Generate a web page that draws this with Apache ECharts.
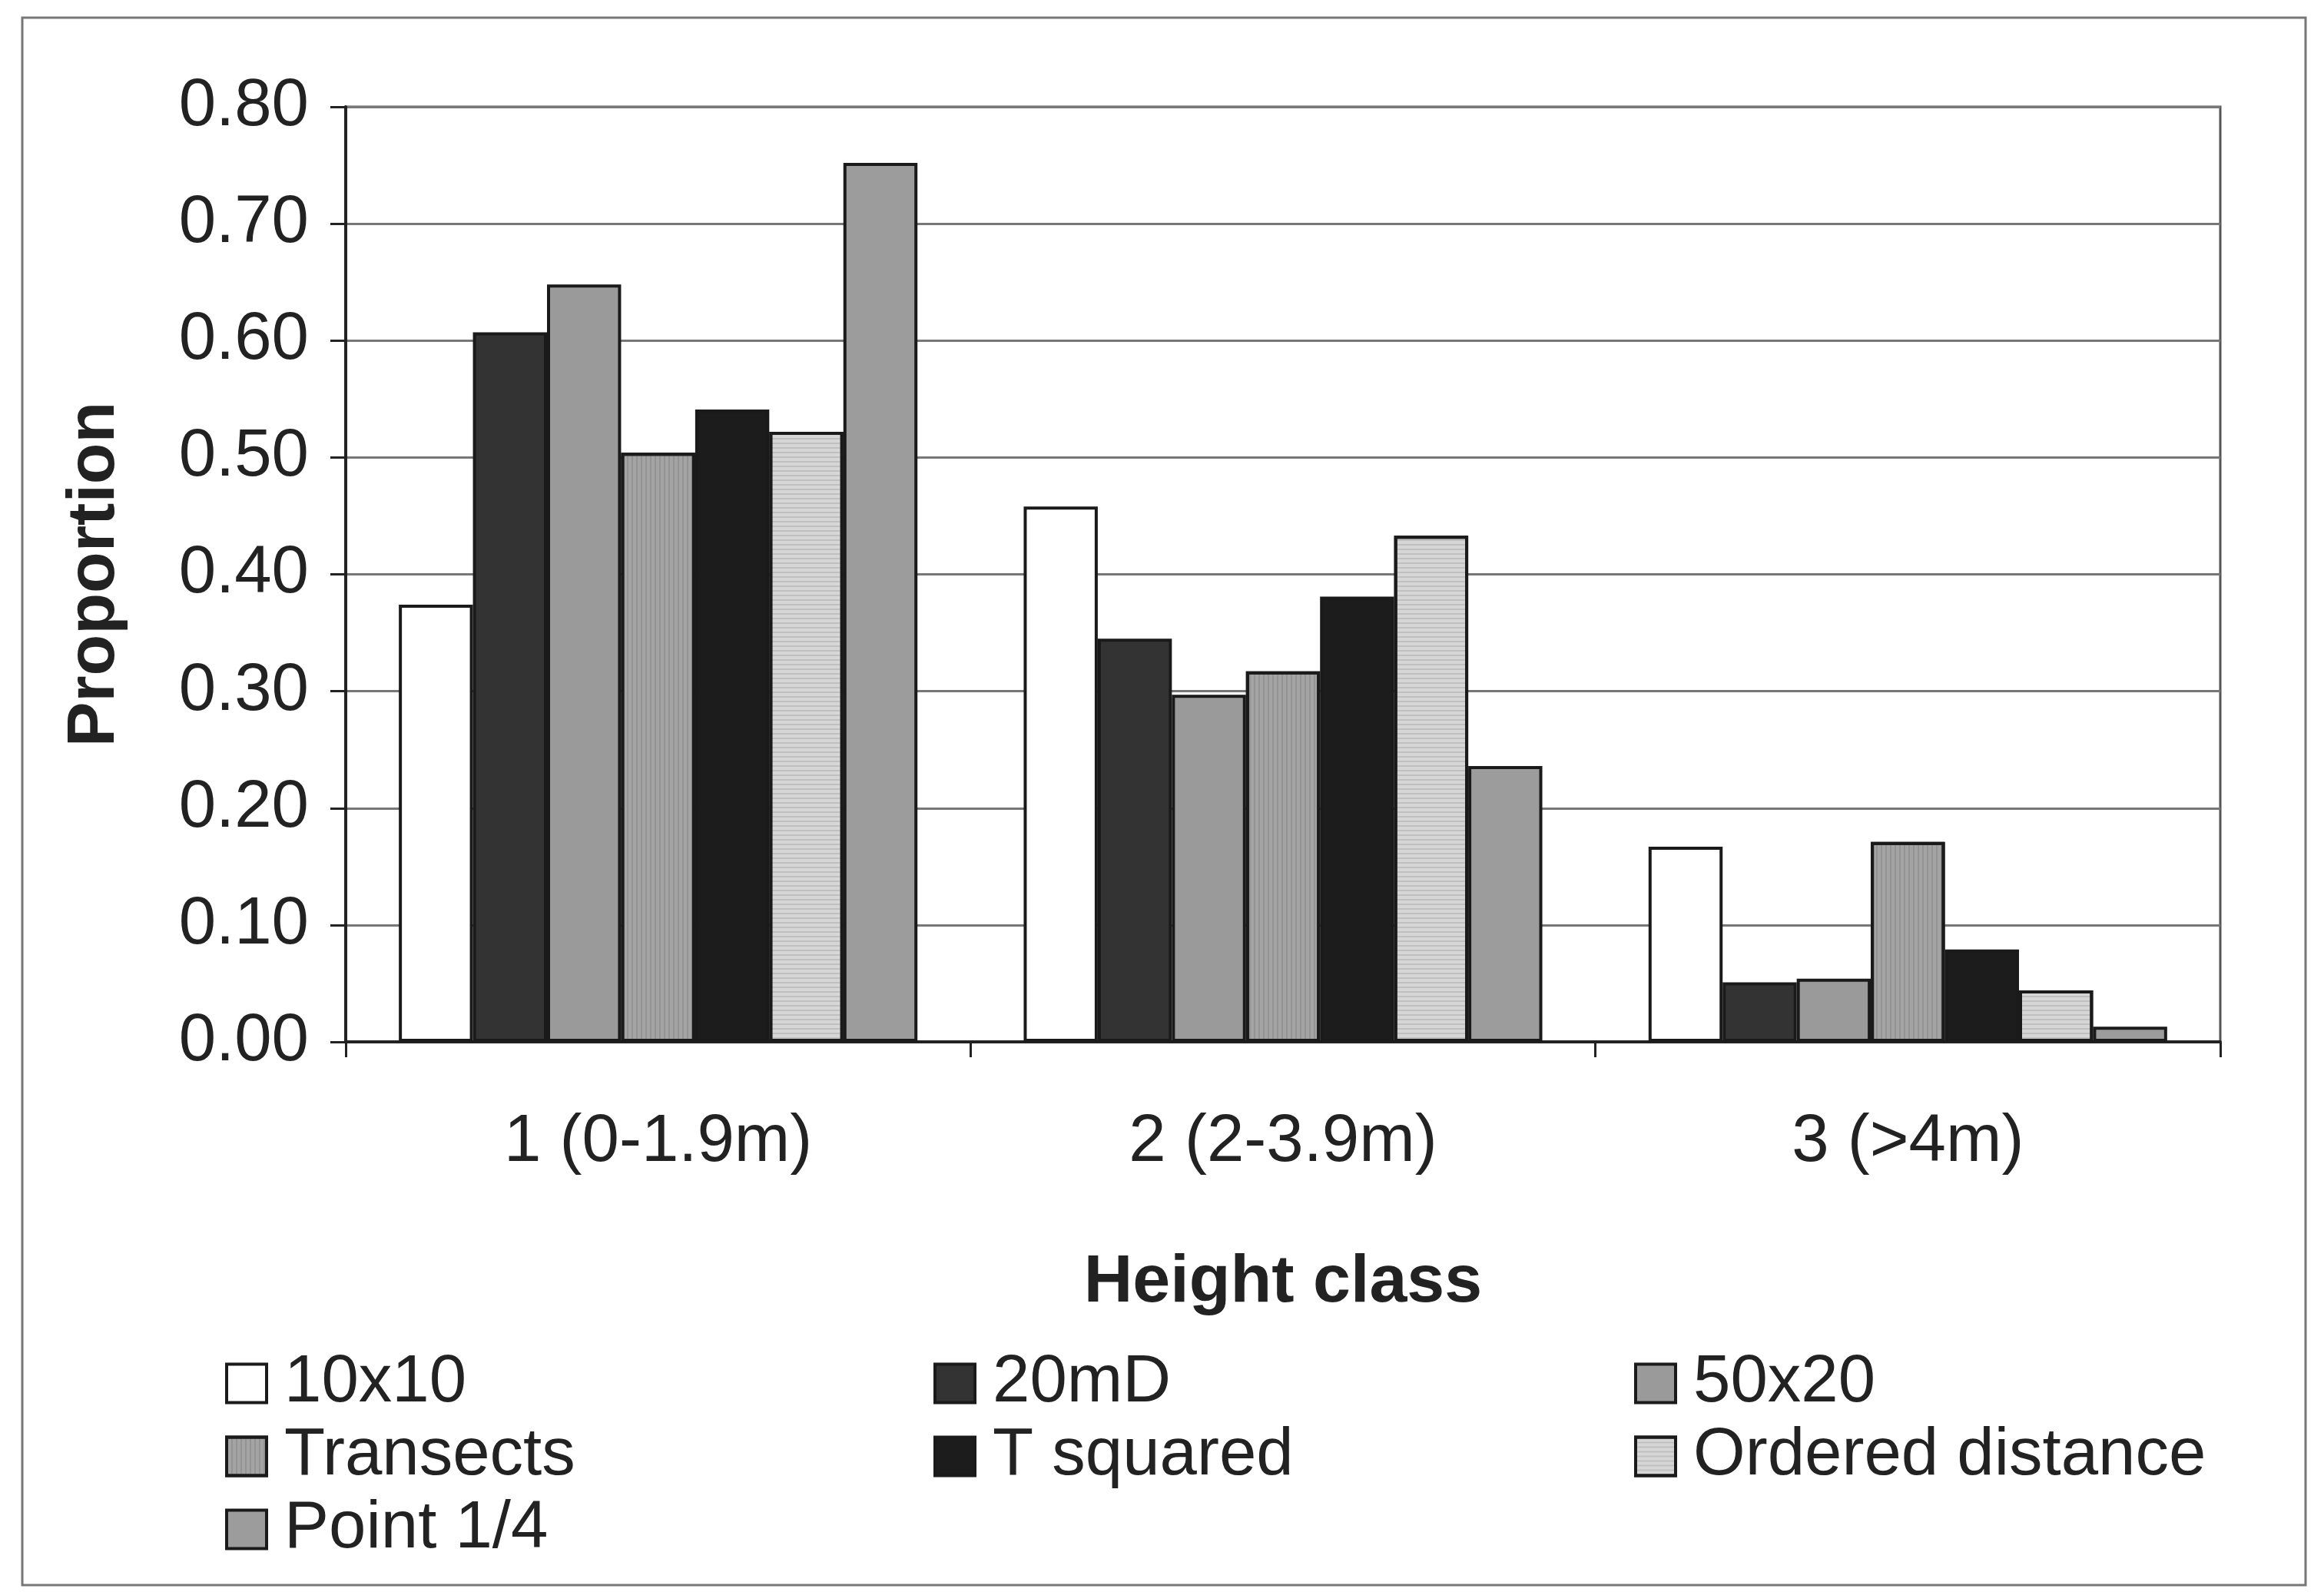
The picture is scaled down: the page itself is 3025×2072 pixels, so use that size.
<!DOCTYPE html>
<html>
<head>
<meta charset="utf-8">
<script src="https://cdn.jsdelivr.net/npm/echarts@6/dist/echarts.min.js"></script>
<style>
html,body{margin:0;padding:0;background:#fff;}
#chart{width:3025px;height:2072px;}
</style>
</head>
<body>
<div id="chart"></div>
<script>
const categories = ['1 (0-1.9m)', '2 (2-3.9m)', '3 (>4m)'];
const yTicks = [0, 0.1, 0.2, 0.3, 0.4, 0.5, 0.6, 0.7, 0.8];
const seriesNames = ['10x10', '20mD', '50x20', 'Transects', 'T squared', 'Ordered distance', 'Point 1/4'];
const v10x10 = [0.374, 0.458, 0.167];
const v20mD = [0.607, 0.345, 0.051];
const v50x20 = [0.648, 0.297, 0.054];
const vTransects = [0.504, 0.317, 0.171];
const vTsquared = [0.541, 0.381, 0.079];
const vOrdered = [0.522, 0.433, 0.044];
const vPoint = [0.752, 0.236, 0.013];
const seriesValues = [v10x10, v20mD, v50x20, vTransects, vTsquared, vOrdered, vPoint];
const seriesColors = ['#ffffff', '#333333', '#9a9a9a', '#a4a4a4', '#1c1c1c', '#d6d6d6', '#9c9c9c'];

const FONT = 'Liberation Sans, Arial, sans-serif';
const chart = echarts.init(document.getElementById('chart'), null, {renderer: 'canvas'});

const decals = {
  'Transects': {symbol: 'rect', symbolSize: 1, color: 'rgba(0,0,0,0.10)', dashArrayX: [2, 4], dashArrayY: [1, 0]},
  'Ordered distance': {symbol: 'rect', symbolSize: 1, color: 'rgba(0,0,0,0.10)', dashArrayX: [1, 0], dashArrayY: [2, 4]}
};

const series = seriesNames.map((name, i) => {
  const itemStyle = {color: seriesColors[i], borderColor: '#1a1a1a', borderWidth: 4};
  if (decals[name]) itemStyle.decal = decals[name];
  return {
    name: name,
    type: 'bar',
    data: seriesValues[i],
    barGap: '0%',
    barCategoryGap: '17%',
    itemStyle: itemStyle,
    emphasis: {disabled: true}
  };
});

const legendCommon = {
  orient: 'vertical',
  icon: 'rect',
  itemWidth: 52,
  itemHeight: 50,
  itemGap: 8,
  textStyle: {fontFamily: FONT, fontSize: 87, color: '#222', padding: [0, 0, 0, 18]},
  itemStyle: {borderColor: '#1a1a1a', borderWidth: 4},
  selectedMode: false
};

chart.setOption({
  animation: false,
  backgroundColor: '#ffffff',
  graphic: [{
    type: 'rect',
    shape: {x: 29, y: 23, width: 2972, height: 2040},
    style: {fill: 'none', stroke: '#777', lineWidth: 3},
    silent: true
  }],
  grid: {left: 450, right: 135, top: 139, bottom: 716, show: true, borderColor: '#555', borderWidth: 3, backgroundColor: '#fff'},
  legend: [
    Object.assign({}, legendCommon, {left: 288, top: 1752, data: ['10x10', 'Transects', 'Point 1/4']}),
    Object.assign({}, legendCommon, {left: 1210, top: 1752, data: ['20mD', 'T squared']}),
    Object.assign({}, legendCommon, {left: 2122, top: 1752, data: ['50x20', 'Ordered distance']})
  ],
  xAxis: {
    type: 'category',
    data: categories,
    name: 'Height class',
    nameLocation: 'middle',
    nameGap: 270,
    nameTextStyle: {fontFamily: FONT, fontSize: 88, fontWeight: 'bold', color: '#222'},
    axisLine: {show: true, lineStyle: {color: '#222', width: 4}},
    axisTick: {show: true, length: 20, lineStyle: {color: '#222', width: 3}},
    axisLabel: {fontFamily: FONT, fontSize: 87, color: '#222', margin: 88},
    splitLine: {show: false}
  },
  yAxis: {
    type: 'value',
    min: 0,
    max: 0.8,
    interval: 0.1,
    name: 'Proportion',
    nameLocation: 'middle',
    nameRotate: 90,
    nameGap: 282,
    nameTextStyle: {fontFamily: FONT, fontSize: 88, fontWeight: 'bold', color: '#222'},
    axisLine: {show: true, lineStyle: {color: '#222', width: 4}},
    axisTick: {show: true, length: 20, lineStyle: {color: '#222', width: 3}},
    axisLabel: {fontFamily: FONT, fontSize: 87, color: '#222', margin: 48,
      formatter: v => v.toFixed(2)},
    splitLine: {show: true, lineStyle: {color: '#777', width: 3}}
  },
  series: series
});
</script>
</body>
</html>
